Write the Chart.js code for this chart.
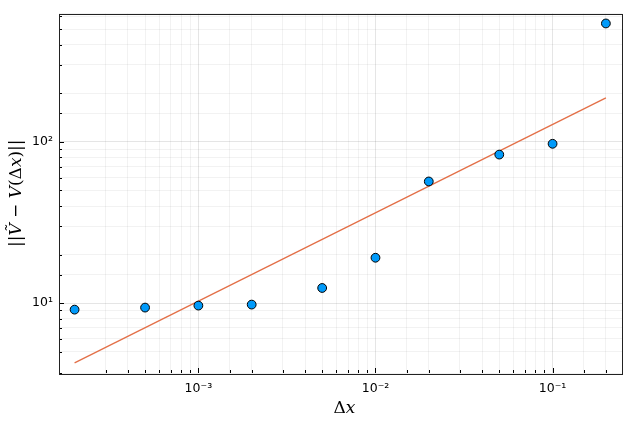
<!DOCTYPE html>
<html>
<head>
<meta charset="utf-8">
<script src="https://cdn.jsdelivr.net/npm/chart.js@4/dist/chart.umd.min.js"></script>
<style>
  html, body { margin: 0; padding: 0; background: #fff; }
  #myChart { display: block; }
</style>
</head>
<body>
<canvas id="myChart" width="634" height="423"></canvas>
<script>
// data
var dx = [2e-4, 5e-4, 1e-3, 2e-3, 5e-3, 1e-2, 2e-2, 5e-2, 1e-1, 2e-1];
var err = [9.10, 9.37, 9.64, 9.78, 12.4, 19.1, 56.8, 83.4, 97.3, 543];
var fitX = [2e-4, 2e-1];
var fitY = [4.25, 187.5];
var supers = { '-': '⁻', '0': '⁰', '1': '¹', '2': '²', '3': '³', '4': '⁴', '5': '⁵', '6': '⁶', '7': '⁷', '8': '⁸', '9': '⁹' };

// axis titles, split in pieces so the variables can be italic
var xTitle = [['Δ', ''], ['x', 'italic ']];
var yTitle = [['||', ''], ['V\u0303', 'italic '], [' − ', ''], ['V', 'italic '], ['(Δ', ''], ['x', 'italic '], [')||', '']];

function isPow10(v) {
  var l = Math.log10(v);
  return Math.abs(l - Math.round(l)) < 1e-9;
}
function powLabel(v) {
  if (!isPow10(v)) return '';
  var e = String(Math.round(Math.log10(v)));
  return '10' + e.split('').map(function (c) { return supers[c]; }).join('');
}

function drawPieces(c, pieces, cx, cy) {
  var font = '17px "DejaVu Serif"';
  var w = 0;
  pieces.forEach(function (p) { c.font = p[1] + font; w += c.measureText(p[0]).width; });
  var x = cx - w / 2;
  c.textBaseline = 'middle';
  c.textAlign = 'left';
  pieces.forEach(function (p) {
    c.font = p[1] + font;
    c.fillText(p[0], x, cy);
    x += c.measureText(p[0]).width;
  });
}

// inward ticks, full frame and axis titles, like the reference
var frame = {
  id: 'frame',
  afterDraw: function (chart) {
    var c = chart.ctx, a = chart.chartArea;
    c.save();
    c.strokeStyle = '#000';
    c.lineWidth = 1;
    c.beginPath();
    chart.scales.x.ticks.forEach(function (t) {
      var px = Math.round(chart.scales.x.getPixelForValue(t.value)) + 0.5;
      var len = isPow10(t.value) ? 5 : 3;
      c.moveTo(px, a.bottom); c.lineTo(px, a.bottom - len);
    });
    chart.scales.y.ticks.forEach(function (t) {
      var py = Math.round(chart.scales.y.getPixelForValue(t.value)) + 0.5;
      var len = isPow10(t.value) ? 5 : 3;
      c.moveTo(a.left, py); c.lineTo(a.left + len, py);
    });
    c.stroke();
    c.strokeStyle = '#222';
    c.strokeRect(Math.round(a.left) + 0.5, Math.round(a.top) + 0.5, Math.round(a.right - a.left), Math.round(a.bottom - a.top));

    c.fillStyle = '#000';
    drawPieces(c, xTitle, (a.left + a.right) / 2 + 4, 409);
    c.translate(17, (a.top + a.bottom) / 2);
    c.rotate(-Math.PI / 2);
    drawPieces(c, yTitle, 0, 0);
    c.restore();
  }
};

function gridColor(ctx) {
  if (!ctx.tick) return 'rgba(0,0,0,0.05)';
  return isPow10(ctx.tick.value) ? 'rgba(0,0,0,0.1)' : 'rgba(0,0,0,0.05)';
}

var chart = new Chart(document.getElementById('myChart').getContext('2d'), {
  type: 'scatter',
  data: {
    datasets: [
      {
        label: 'fit',
        data: fitX.map(function (x, i) { return { x: x, y: fitY[i] }; }),
        showLine: true,
        borderColor: '#e36f47',
        borderWidth: 1.3,
        pointRadius: 0,
        order: 2
      },
      {
        label: 'error',
        data: dx.map(function (x, i) { return { x: x, y: err[i] }; }),
        backgroundColor: '#009afa',
        borderColor: '#000',
        borderWidth: 1,
        pointRadius: 4.4,
        order: 1
      }
    ]
  },
  plugins: [frame],
  options: {
    responsive: false,
    animation: false,
    layout: { padding: { top: 13, right: 12, left: 0, bottom: 0 } },
    plugins: { legend: { display: false }, tooltip: { enabled: false } },
    scales: {
      x: {
        type: 'logarithmic',
        min: 1.633e-4,
        max: 0.2466,
        border: { display: false },
        grid: { color: gridColor, drawTicks: false },
        afterFit: function (s) { s.height = 50; },
        ticks: {
          autoSkip: false, maxRotation: 0, padding: 8,
          color: '#000',
          font: { family: 'DejaVu Sans', size: 12.5 },
          callback: function (v) { return powLabel(v); }
        }
      },
      y: {
        type: 'logarithmic',
        min: 3.68,
        max: 626,
        border: { display: false },
        grid: { color: gridColor, drawTicks: false },
        afterFit: function (s) { s.width = 59; },
        ticks: {
          autoSkip: false, padding: 6,
          color: '#000',
          font: { family: 'DejaVu Sans', size: 12.5 },
          callback: function (v) { return powLabel(v); }
        }
      }
    }
  }
});
</script>
</body>
</html>
